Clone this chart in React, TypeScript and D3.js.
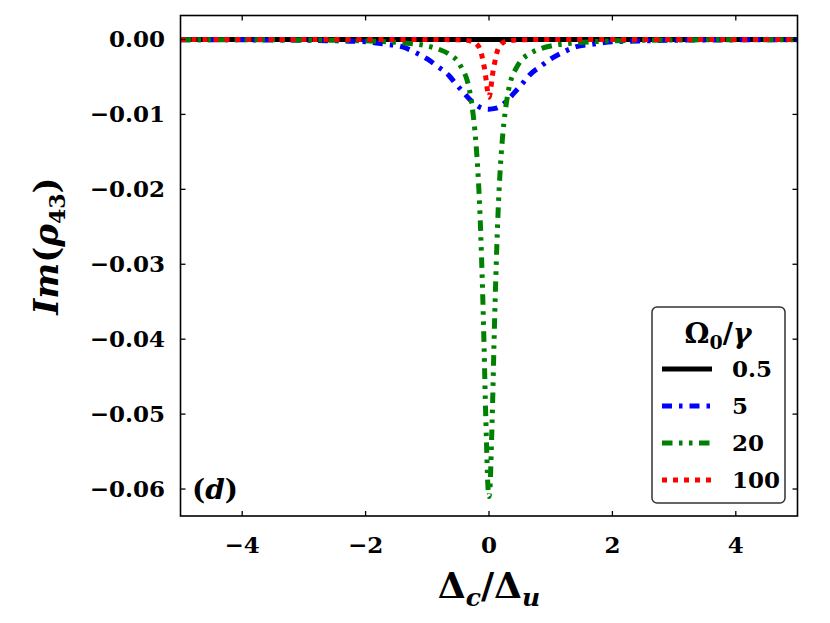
import React from "react";
import * as d3 from "d3";

const W = 830;
const H = 623;

// x ticks and y ticks
const xTicks = [-4, -2, 0, 2, 4];
const yTicks = [0, -0.01, -0.02, -0.03, -0.04, -0.05, -0.06];
const yTickLabels = ["0.00", "\u22120.01", "\u22120.02", "\u22120.03", "\u22120.04", "\u22120.05", "\u22120.06"];
const xTickLabels = ["\u22124", "\u22122", "0", "2", "4"];

// Series: Ω0/γ = 0.5
const xBlack = [-5, -2, 0, 2, 5];
const yBlack = [0, 0, 0, 0, 0];

// Ω0/γ = 5
const xBlue = [-5, -4, -3, -2.4, -2, -1.7, -1.4, -1.2, -1.0, -0.85, -0.65, -0.55, -0.4, -0.3, -0.2, -0.1, 0,
  0.1, 0.2, 0.3, 0.4, 0.55, 0.65, 0.85, 1.0, 1.2, 1.4, 1.7, 2, 2.4, 3, 4, 5];
const yBlue = [-0.00003, -0.00005, -0.0001, -0.0002, -0.0003, -0.0006, -0.001, -0.0017, -0.0026, -0.0035, -0.0048, -0.0058, -0.0072, -0.0081, -0.0088, -0.0092, -0.0093,
  -0.0092, -0.0088, -0.0081, -0.0072, -0.0058, -0.0048, -0.0035, -0.0026, -0.0017, -0.001, -0.0006, -0.0003, -0.0002, -0.0001, -0.00005, -0.00003];

// Ω0/γ = 20
const xGreen = [-5, -3.5, -2.5, -1.8, -1.33, -1.04, -0.85, -0.66, -0.5, -0.43, -0.36, -0.3, -0.26, -0.22, -0.18, -0.15, -0.12, -0.1, -0.08, -0.06, -0.04, -0.02, 0,
  0.02, 0.04, 0.06, 0.08, 0.1, 0.12, 0.15, 0.18, 0.22, 0.26, 0.3, 0.36, 0.43, 0.5, 0.66, 0.85, 1.04, 1.33, 1.8, 2.5, 3.5, 5];
const yGreen = [-0.00003, -0.00005, -0.0001, -0.00025, -0.0005, -0.0008, -0.0012, -0.0019, -0.003, -0.004, -0.0053, -0.0075, -0.0098, -0.013, -0.0176, -0.0225, -0.0293, -0.0347, -0.041, -0.048, -0.054, -0.0592, -0.061,
  -0.0592, -0.054, -0.048, -0.041, -0.0347, -0.0293, -0.0225, -0.0176, -0.013, -0.0098, -0.0075, -0.0053, -0.004, -0.003, -0.0019, -0.0012, -0.0008, -0.0005, -0.00025, -0.0001, -0.00005, -0.00003];

// Ω0/γ = 100
const xRed = [-5, -1, -0.5, -0.3, -0.23, -0.19, -0.15, -0.12, -0.092, -0.07, -0.045, -0.025, -0.01, 0,
  0.01, 0.025, 0.045, 0.07, 0.092, 0.12, 0.15, 0.19, 0.23, 0.3, 0.5, 1, 5];
const yRed = [0, 0, -0.00005, -0.0002, -0.0004, -0.0007, -0.0012, -0.002, -0.0031, -0.004, -0.0055, -0.0068, -0.0075, -0.0077,
  -0.0075, -0.0068, -0.0055, -0.004, -0.0031, -0.002, -0.0012, -0.0007, -0.0004, -0.0002, -0.00005, 0, 0];

const legendLabels = ["0.5", "5", "20", "100"];
const colors = ["#000000", "#0000ff", "#008000", "#ff0000"];
const dashes = ["none", "10,7,3.5,7", "10.5,6.5,3.5,6.5,3.5,6.5", "5,6"];

const series = [
  { xs: xBlack, ys: yBlack },
  { xs: xBlue, ys: yBlue },
  { xs: xGreen, ys: yGreen },
  { xs: xRed, ys: yRed },
];

const FONT = "'DejaVu Serif', serif";

export default function App() {
  const left = 180.5, right = 797.5, top = 15.5, bottom = 516;
  const x = d3.scaleLinear().domain([-5, 5]).range([left, right]);
  const y = d3.scaleLinear().domain([-0.0636, 0.0032]).range([bottom, top]);
  const line = d3
    .line<[number, number]>()
    .x((d) => x(d[0]))
    .y((d) => y(d[1]))
    .curve(d3.curveMonotoneX);

  const lw = 5;
  const tickLen = 5;

  return (
    <svg
      width={W}
      height={H}
      style={{ position: "absolute", left: 0, top: 0, background: "#fff" }}
      fontFamily={FONT}
    >
      <rect x={0} y={0} width={W} height={H} fill="#fff" />
      <defs>
        <clipPath id="plotclip">
          <rect x={left} y={top} width={right - left} height={bottom - top} />
        </clipPath>
      </defs>

      <g clipPath="url(#plotclip)">
        {series.map((s, i) => (
          <path
            key={i}
            d={line(s.xs.map((v, j) => [v, s.ys[j]] as [number, number])) || ""}
            fill="none"
            stroke={colors[i]}
            strokeWidth={lw}
            strokeDasharray={dashes[i]}
            strokeLinecap="butt"
            strokeLinejoin="round"
          />
        ))}
      </g>

      {/* ticks */}
      {xTicks.map((t, i) => (
        <g key={"xt" + i}>
          <line x1={x(t)} x2={x(t)} y1={bottom} y2={bottom - tickLen} stroke="#000" strokeWidth={1.3} />
          <line x1={x(t)} x2={x(t)} y1={top} y2={top + tickLen} stroke="#000" strokeWidth={1.3} />
          <text x={x(t)} y={553} textAnchor="middle" fontSize={23} fontWeight="bold">
            {xTickLabels[i]}
          </text>
        </g>
      ))}
      {yTicks.map((t, i) => (
        <g key={"yt" + i}>
          <line x1={left} x2={left + tickLen} y1={y(t)} y2={y(t)} stroke="#000" strokeWidth={1.3} />
          <line x1={right} x2={right - tickLen} y1={y(t)} y2={y(t)} stroke="#000" strokeWidth={1.3} />
          <text x={165} y={y(t) + 8} textAnchor="end" fontSize={23} fontWeight="bold">
            {yTickLabels[i]}
          </text>
        </g>
      ))}

      {/* frame */}
      <rect x={left} y={top} width={right - left} height={bottom - top} fill="none" stroke="#000" strokeWidth={1.6} />

      {/* panel label */}
      <text x={192} y={499} fontSize={28} fontWeight="bold">
        (<tspan fontStyle="italic">d</tspan>)
      </text>

      {/* x label */}
      <text x={489} y={598} textAnchor="middle" fontSize={36} fontWeight="bold">
        Δ<tspan fontStyle="italic" fontSize={25} dy={8}>c</tspan>
        <tspan dy={-8}>/Δ</tspan>
        <tspan fontStyle="italic" fontSize={25} dy={8}>u</tspan>
      </text>

      {/* y label */}
      <text
        transform={`translate(58,${246}) rotate(-90)`}
        textAnchor="middle"
        fontSize={34}
        fontWeight="bold"
      >
        <tspan fontStyle="italic">Im</tspan>(<tspan fontStyle="italic">ρ</tspan>
        <tspan fontSize={22} dy={7}>43</tspan>
        <tspan dy={-7}>)</tspan>
      </text>

      {/* legend */}
      <g>
        <rect x={652} y={307} width={133} height={196} rx={5} ry={5} fill="#fff" stroke="#333" strokeWidth={1.5} />
        <text x={718} y={343} textAnchor="middle" fontSize={28} fontWeight="bold">
          Ω<tspan fontSize={19} dy={6}>0</tspan>
          <tspan dy={-6}>/</tspan>
          <tspan fontStyle="italic">γ</tspan>
        </text>
        {legendLabels.map((lab, i) => {
          const ry = 369 + i * 37;
          return (
            <g key={"lg" + i}>
              <line x1={662} x2={712} y1={ry} y2={ry} stroke={colors[i]} strokeWidth={lw} strokeDasharray={dashes[i]} />
              <text x={732} y={ry + 8} fontSize={23} fontWeight="bold">
                {lab}
              </text>
            </g>
          );
        })}
      </g>
    </svg>
  );
}
